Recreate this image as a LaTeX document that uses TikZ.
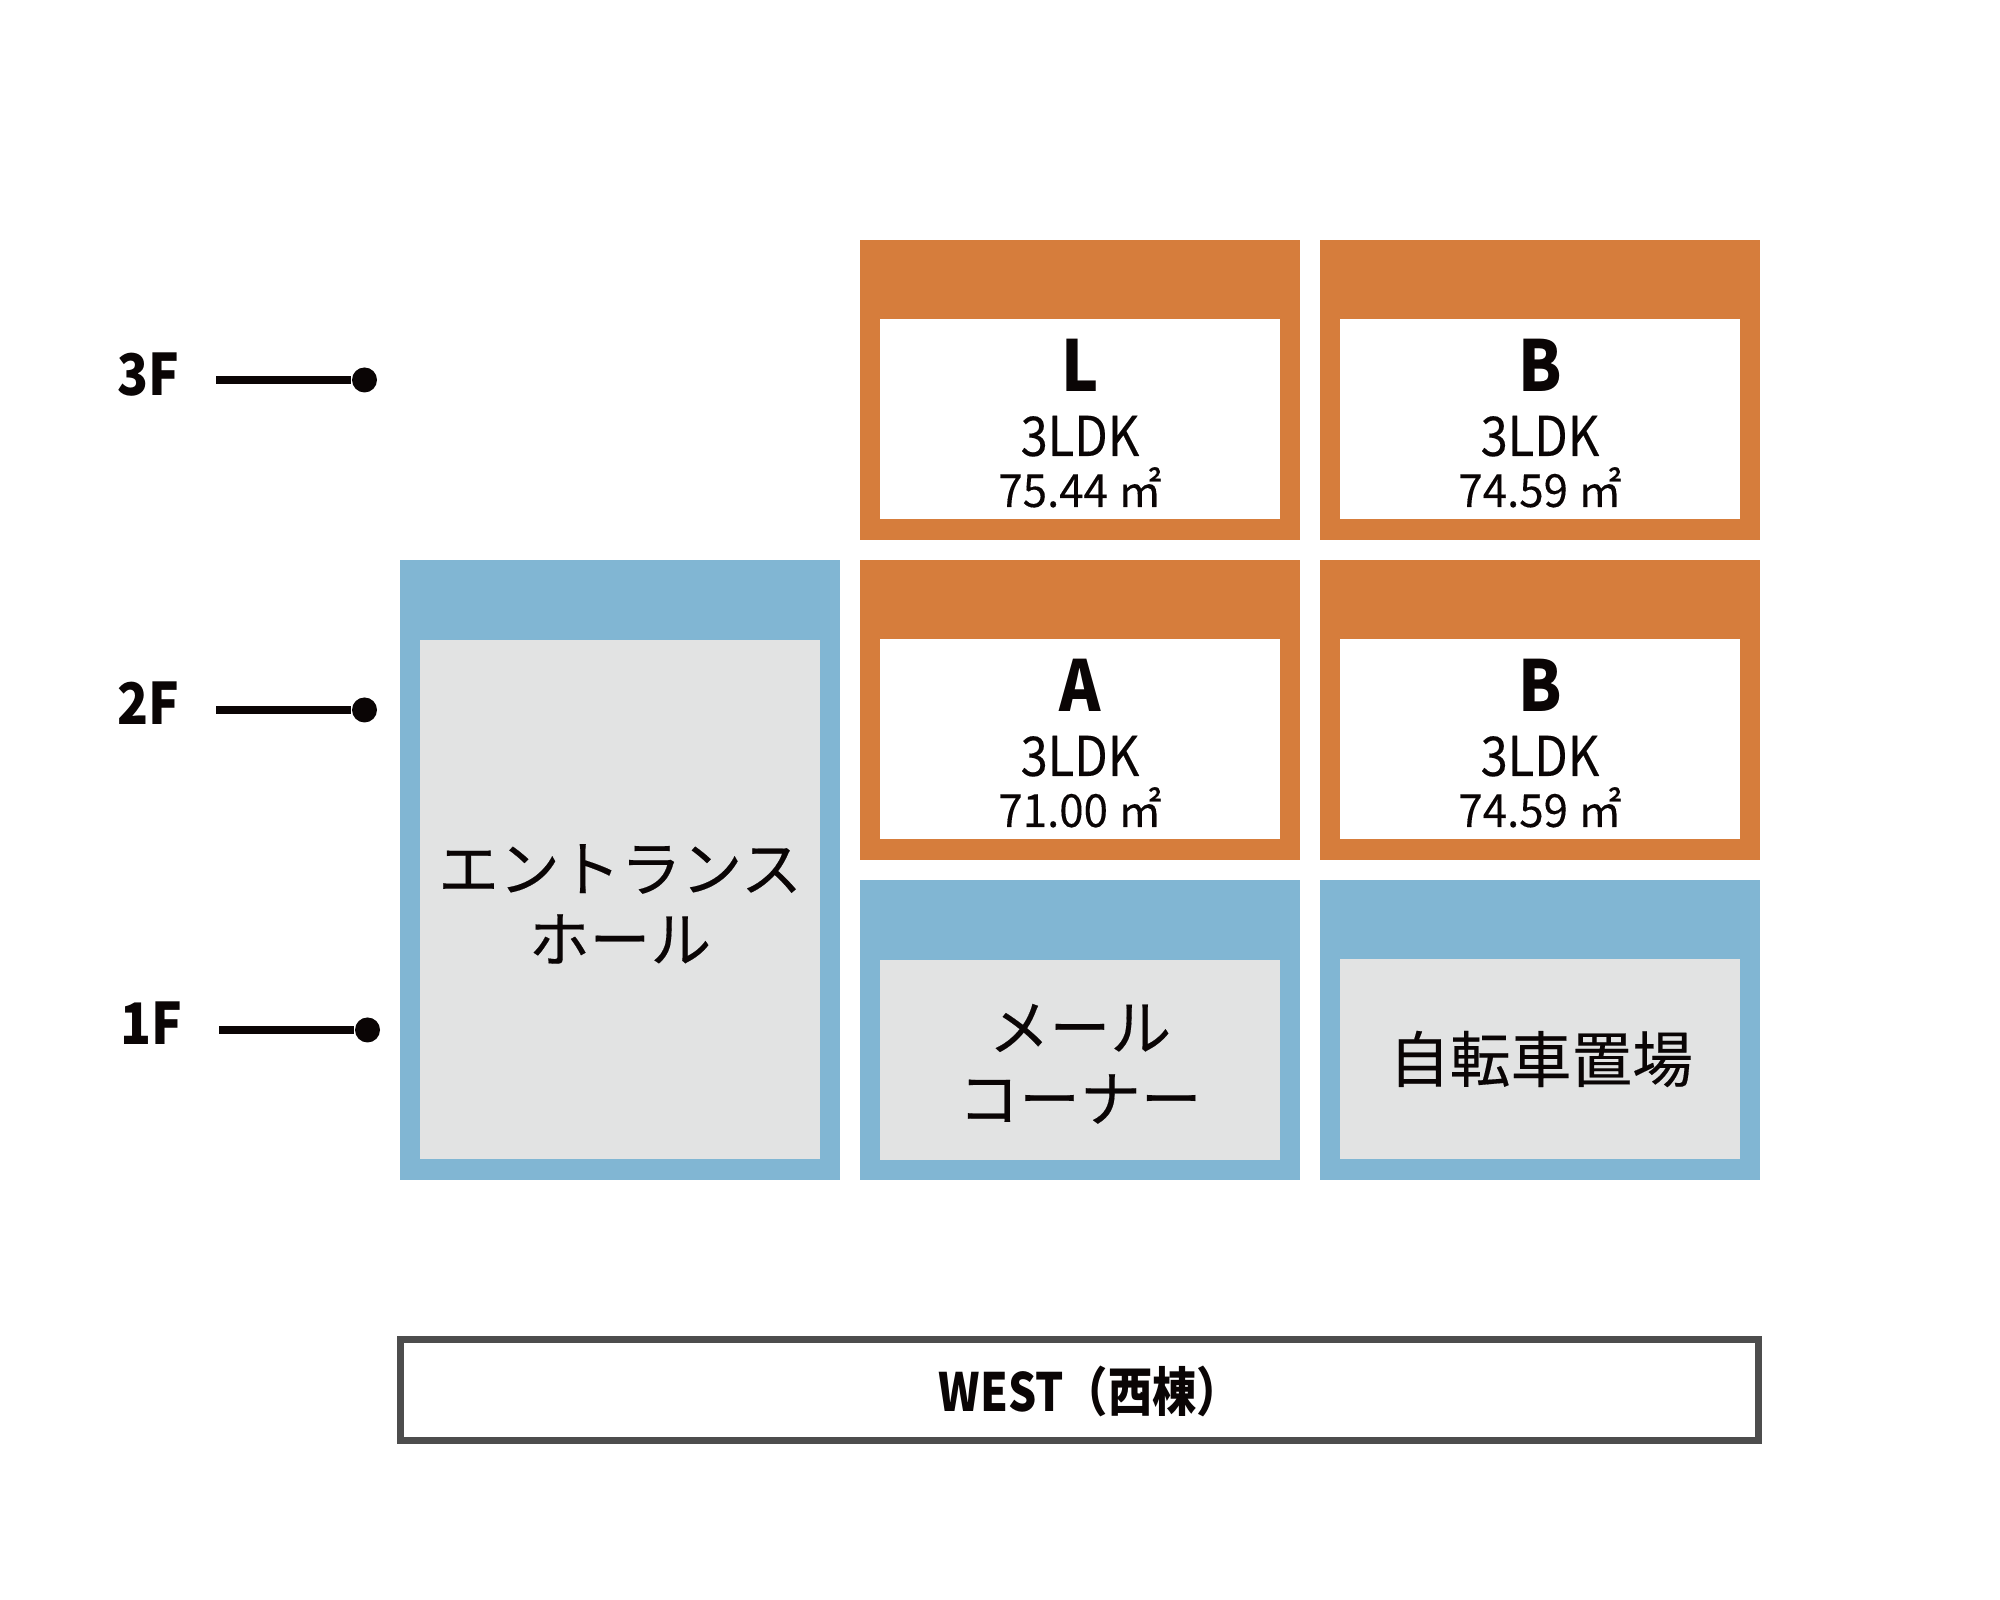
\documentclass[tikz,border=0pt]{standalone}
\usepackage{fontspec}
\setmainfont{Noto Sans CJK JP}
\newfontfamily\jpfont[FakeBold=0.25]{Noto Sans CJK JP}
\newfontfamily\latinfont[FakeStretch=0.89]{Noto Sans CJK JP}
\newfontfamily\planfont[FakeStretch=0.89,FakeBold=0.2]{Noto Sans CJK JP}
\newfontfamily\areafont[FakeStretch=0.96,FakeBold=0.2]{Noto Sans CJK JP}
\newfontfamily\westfont[FakeStretch=0.84]{Noto Sans CJK JP}
\usetikzlibrary{positioning}
\definecolor{flatorange}{HTML}{D67D3C}
\definecolor{flatblue}{HTML}{81B6D3}
\definecolor{flatgray}{HTML}{E2E3E3}
\definecolor{framegray}{HTML}{4D4D4D}
\definecolor{inkblack}{HTML}{0A0505}
\tikzset{
  outerbox/.style={
    rectangle, minimum height=30mm, minimum width=44mm, inner sep=0mm
  },
  innerbox/.style={
    rectangle, minimum height=20mm, minimum width=40mm, inner sep=0mm
  },
  flatlabel/.style={
    anchor=base, inner sep=0mm, text=inkblack
  },
  typename/.style={
    flatlabel, font=\latinfont\bfseries\fontsize{20}{20}\selectfont
  },
  typeplan/.style={
    flatlabel, font=\planfont\fontsize{15.6}{16}\selectfont
  },
  typearea/.style={
    flatlabel, font=\areafont\fontsize{13}{13}\selectfont
  },
  floorname/.style={
    flatlabel, font=\latinfont\bfseries\fontsize{16.3}{16}\selectfont
  },
  roomname/.style={
    inner sep=0mm, text=inkblack, font=\jpfont\fontsize{17.3}{17}\selectfont
  },
  floordot/.style={
    draw=none, fill=inkblack, circle, minimum size=2.5mm, inner sep=0mm
  },
  floorline/.style={
    inkblack, line width=0.75mm
  }
}

\begin{document}
\begin{tikzpicture}
  \useasboundingbox (0, 0) rectangle (20, 16);
  \fill[white] (0, 0) rectangle (20, 16);

  % entrance hall
  \node[outerbox, fill=flatblue, minimum height=62mm] (hallo) at (6.2, 7.3) {};
  \node[innerbox, fill=flatgray, minimum height=51.9mm] (halli) at (6.2, 7.0) {};
  \node[roomname] (hallt) at (6.2, 7.31) {エントランス};
  \node[roomname] (hallb) at (6.2, 6.61) {ホール};

  % 3F
  \node[outerbox, fill=flatorange] (lo) at (10.8, 12.1) {};
  \node[innerbox, fill=white] (li) at (10.8, 11.81) {};
  \node[typename] (ln) at (10.8, 12.08) {L};
  \node[typeplan] (lp) at (10.8, 11.44) {3LDK};
  \node[typearea] (la) at (10.8, 10.93) {75.44 ㎡};

  \node[outerbox, fill=flatorange] (bto) at (15.4, 12.1) {};
  \node[innerbox, fill=white] (bti) at (15.4, 11.81) {};
  \node[typename] (btn) at (15.4, 12.08) {B};
  \node[typeplan] (btp) at (15.4, 11.44) {3LDK};
  \node[typearea] (bta) at (15.4, 10.93) {74.59 ㎡};

  % 2F
  \node[outerbox, fill=flatorange] (ao) at (10.8, 8.9) {};
  \node[innerbox, fill=white] (ai) at (10.8, 8.61) {};
  \node[typename] (an) at (10.8, 8.88) {A};
  \node[typeplan] (ap) at (10.8, 8.24) {3LDK};
  \node[typearea] (aa) at (10.8, 7.73) {71.00 ㎡};

  \node[outerbox, fill=flatorange] (bso) at (15.4, 8.9) {};
  \node[innerbox, fill=white] (bsi) at (15.4, 8.61) {};
  \node[typename] (bsn) at (15.4, 8.88) {B};
  \node[typeplan] (bsp) at (15.4, 8.24) {3LDK};
  \node[typearea] (bsa) at (15.4, 7.73) {74.59 ㎡};

  % 1F
  \node[outerbox, fill=flatblue] (mailo) at (10.8, 5.7) {};
  \node[innerbox, fill=flatgray] (maili) at (10.8, 5.4) {};
  \node[roomname] (mailt) at (10.8, 5.72) {メール};
  \node[roomname] (mailb) at (10.8, 5.01) {コーナー};

  \node[outerbox, fill=flatblue] (bikeo) at (15.4, 5.7) {};
  \node[innerbox, fill=flatgray] (bikei) at (15.4, 5.41) {};
  \node[roomname] (biket) at (15.41, 5.41) {自転車置場};

  % floors
  \node[floorname] (f3) at (1.48, 12.04) {3F};
  \coordinate (f3from) at (2.16, 12.2);
  \node[floordot] (f3dot) at (3.645, 12.2) {};
  \draw[floorline] (f3from) -- (f3dot);

  \node[floorname] (f2) at (1.48, 8.75) {2F};
  \coordinate (f2from) at (2.16, 8.9);
  \node[floordot] (f2dot) at (3.645, 8.9) {};
  \draw[floorline] (f2from) -- (f2dot);

  \node[floorname] (f1) at (1.51, 5.55) {1F};
  \coordinate (f1from) at (2.19, 5.7);
  \node[floordot] (f1dot) at (3.675, 5.7) {};
  \draw[floorline] (f1from) -- (f1dot);

  % building
  \node[rectangle, draw=framegray, line width=0.7mm, minimum width=135.8mm,
        minimum height=10.1mm, inner sep=0mm] (west) at (10.795, 2.1) {};
  \node[flatlabel, font=\westfont\bfseries\fontsize{15}{15}\selectfont] (westt) at (10.9, 1.88) {WEST（西棟）};
\end{tikzpicture}
\end{document}
